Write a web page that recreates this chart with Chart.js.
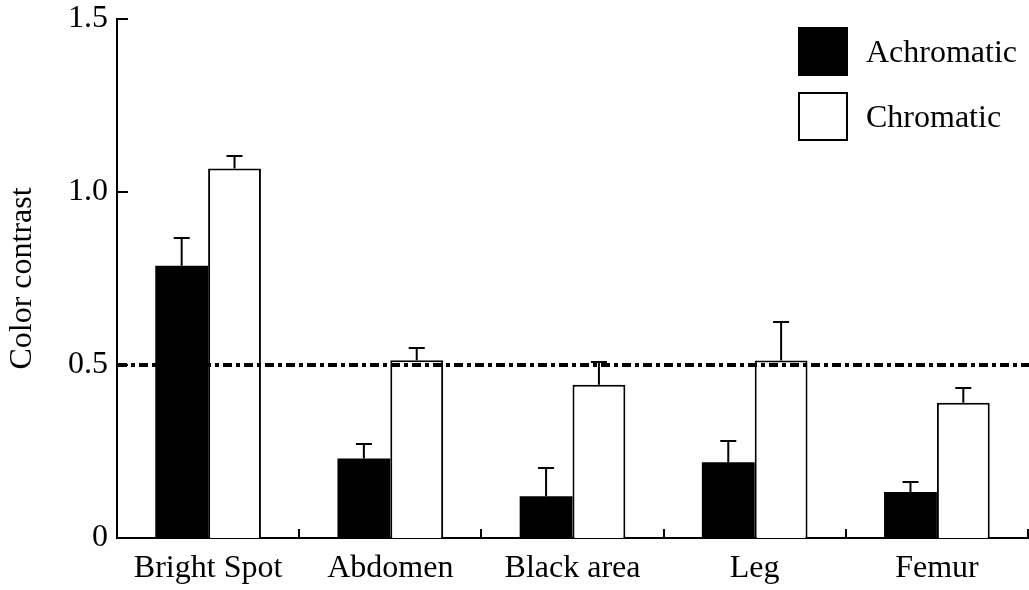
<!DOCTYPE html>
<html>
<head>
<meta charset="utf-8">
<title>Color contrast</title>
<script src="https://cdn.jsdelivr.net/npm/chart.js@4/dist/chart.umd.min.js"></script>
<style>
  html, body { margin: 0; padding: 0; background: #fff; }
  canvas { display: block; }
</style>
</head>
<body>
<canvas id="contrastChart" width="1029" height="590"></canvas>
<script>
const categories = ['Bright Spot', 'Abdomen', 'Black area', 'Leg', 'Femur'];
const achromatic = [0.787, 0.230, 0.121, 0.219, 0.133];
const achromaticErr = [0.079, 0.042, 0.080, 0.062, 0.028];
const chromatic = [1.068, 0.514, 0.443, 0.513, 0.391];
const chromaticErr = [0.036, 0.035, 0.066, 0.111, 0.042];
const yTicks = [0, 0.5, 1.0, 1.5];
const threshold = 0.5;

const FONT = "'Liberation Serif', 'Times New Roman', serif";
const FONT_SIZE = 32;

// whiskers above each bar (mean + SE)
const errorBars = {
    id: 'errorBars',
    afterDatasetsDraw(chart, args, opts) {
        const ctx = chart.ctx;
        const yScale = chart.scales.y;
        ctx.save();
        ctx.strokeStyle = '#000';
        ctx.lineWidth = 2;
        chart.data.datasets.forEach((ds, di) => {
            const meta = chart.getDatasetMeta(di);
            meta.data.forEach((bar, i) => {
                const top = Math.round(yScale.getPixelForValue(ds.data[i] + ds.errors[i]));
                ctx.beginPath();
                ctx.moveTo(bar.x, bar.y);
                ctx.lineTo(bar.x, top);
                ctx.moveTo(bar.x - opts.cap / 2, top);
                ctx.lineTo(bar.x + opts.cap / 2, top);
                ctx.stroke();
            });
        });
        ctx.restore();
    }
};

// dotted reference line, inward tick marks and the boxed legend
const decorations = {
    id: 'decorations',
    afterDraw(chart, args, opts) {
        const ctx = chart.ctx;
        const area = chart.chartArea;
        const y = chart.scales.y;
        ctx.save();

        // threshold line
        const ty = Math.round(y.getPixelForValue(threshold));
        ctx.strokeStyle = '#000';
        ctx.lineWidth = 4;
        ctx.setLineDash([9, 4, 4, 4]);
        ctx.beginPath();
        ctx.moveTo(area.left + 1, ty);
        ctx.lineTo(chart.width, ty);
        ctx.stroke();
        ctx.setLineDash([]);

        // y ticks pointing into the plot
        ctx.lineWidth = 2;
        yTicks.forEach(v => {
            const py = Math.round(y.getPixelForValue(v));
            ctx.beginPath();
            ctx.moveTo(area.left, py);
            ctx.lineTo(area.left + 11, py);
            ctx.stroke();
        });

        // x ticks on the category boundaries, pointing up
        const step = (area.right - area.left) / categories.length;
        for (let i = 1; i <= categories.length; i++) {
            const px = Math.min(Math.round(area.left + step * i), chart.width - 1);
            ctx.beginPath();
            ctx.moveTo(px, area.bottom);
            ctx.lineTo(px, area.bottom - 9);
            ctx.stroke();
        }

        // legend
        ctx.font = `${FONT_SIZE}px ${FONT}`;
        ctx.textBaseline = 'middle';
        ctx.textAlign = 'left';
        chart.data.datasets.forEach((ds, i) => {
            const by = opts.top + i * opts.rowGap;
            ctx.fillStyle = ds.backgroundColor;
            ctx.fillRect(opts.left, by, opts.box, opts.box - 1);
            ctx.strokeStyle = '#000';
            ctx.lineWidth = 2;
            ctx.strokeRect(opts.left + 1, by + 1, opts.box - 2, opts.box - 3);
            ctx.fillStyle = '#000';
            ctx.fillText(ds.label, opts.left + opts.box + 18, by + opts.box / 2 + 2);
        });

        ctx.restore();
    }
};

new Chart(document.getElementById('contrastChart').getContext('2d'), {
    type: 'bar',
    data: {
        labels: categories,
        datasets: [
            {
                label: 'Achromatic',
                data: achromatic,
                errors: achromaticErr,
                backgroundColor: '#000',
                borderColor: '#000',
                borderWidth: 0
            },
            {
                label: 'Chromatic',
                data: chromatic,
                errors: chromaticErr,
                backgroundColor: '#fff',
                borderColor: '#000',
                borderWidth: 2
            }
        ]
    },
    options: {
        responsive: false,
        animation: false,
        devicePixelRatio: 1,
        layout: { padding: { top: 19, right: 1, left: 0, bottom: 0 } },
        datasets: {
            bar: { barPercentage: 1.0, categoryPercentage: 0.58 }
        },
        plugins: {
            legend: { display: false },
            tooltip: { enabled: false },
            errorBars: { cap: 16 },
            decorations: { left: 798, top: 27, box: 50, rowGap: 65 }
        },
        scales: {
            x: {
                grid: { display: false, drawTicks: false },
                border: { display: true, color: '#000', width: 2 },
                ticks: {
                    color: '#000',
                    padding: 11,
                    maxRotation: 0,
                    font: { family: FONT, size: FONT_SIZE }
                },
                afterFit(scale) {
                    scale.height = 52;
                    scale.paddingLeft = 0;
                    scale.paddingRight = 0;
                }
            },
            y: {
                min: 0,
                max: 1.5,
                grid: { display: false, drawTicks: false },
                border: { display: true, color: '#000', width: 2 },
                afterBuildTicks(scale) {
                    scale.ticks = yTicks.map(v => ({ value: v }));
                },
                ticks: {
                    color: '#000',
                    padding: 9,
                    font: { family: FONT, size: FONT_SIZE },
                    callback: v => (v === 0 ? '0' : v.toFixed(1))
                },
                title: {
                    display: true,
                    text: 'Color contrast',
                    color: '#000',
                    padding: { top: 3, bottom: 0 },
                    font: { family: FONT, size: FONT_SIZE }
                },
                afterFit(scale) {
                    scale.width = 117;
                    scale.paddingTop = 0;
                    scale.paddingBottom = 0;
                }
            }
        }
    },
    plugins: [errorBars, decorations]
});
</script>
</body>
</html>
